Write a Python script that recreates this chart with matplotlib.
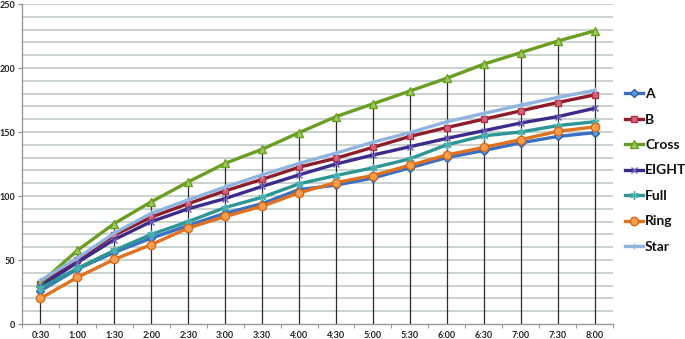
import numpy as np
import matplotlib
matplotlib.use("Agg")
from matplotlib import pyplot as plt
from matplotlib.ticker import MultipleLocator

plt.rcParams['font.family'] = ['Lato', 'DejaVu Sans']

times = ['0:30', '1:00', '1:30', '2:00', '2:30', '3:00', '3:30', '4:00',
         '4:30', '5:00', '5:30', '6:00', '6:30', '7:00', '7:30', '8:00']

A = [26, 43, 56, 67, 77, 86.5, 94, 105, 108.5, 114, 122, 130, 135.5, 141.5, 146.5, 149.5]
B = [31, 50, 69.5, 83.5, 94, 104, 113, 122.5, 129.5, 138, 146.5, 153.5, 160, 166.5, 173, 179]
Cross = [32, 57.5, 78.5, 95.5, 111, 125.5, 136.5, 149.5, 162, 172, 182, 192, 203, 212, 221, 229]
EIGHT = [29.5, 48, 66, 80, 90, 98, 107.5, 116.5, 125, 132, 138.5, 145, 151, 157, 162, 168.5]
Full = [28, 43.5, 57.5, 70, 80, 91, 99, 109.5, 116, 122, 129, 140, 147, 150, 155, 158]
Ring = [20, 36.5, 50.5, 62, 75, 84, 92, 102.5, 110.5, 116, 124, 132, 138, 144, 150.5, 154]
Star = [34, 51.5, 71, 86.5, 97, 107, 116.5, 125.5, 133.5, 142, 149.5, 158, 164.5, 171, 177, 182.5]

names = ['A', 'B', 'Cross', 'EIGHT', 'Full', 'Ring', 'Star']
series = [A, B, Cross, EIGHT, Full, Ring, Star]
# line colour, marker, marker face, marker edge, marker size
styles = [
    ('#3A6FC4', 'D', '#5B9BD5', '#2F5FA8', 4),
    ('#8E1C2A', 's', '#D4637A', '#B0304A', 5),
    ('#6A9E22', '^', '#9CCB5A', '#6A9E22', 5.5),
    ('#3D2A8A', 'x', '#5B47A8', '#6B5BB8', 5),
    ('#2E9595', (6, 2, 0), '#5CC3C3', '#4BB0B0', 6),
    ('#E0711E', 'o', '#F4A050', '#D86A18', 6),
    ('#8FB4E0', '|', '#8FB4E0', '#8FB4E0', 4),
]

fig = plt.figure(figsize=(6.85, 3.39), dpi=100)
ax = fig.add_axes([22 / 685, 1 - 324 / 339, 591 / 685, 320 / 339])

x = np.arange(len(times))

# horizontal gridlines every 10
for v in range(10, 251, 10):
    ax.axhline(v, color='#C5CFCB', lw=1.3, zorder=0)

# drop lines from the highest point to the axis
tops = np.max(np.array(series), axis=0)
ax.vlines(x, 0, tops, color='#2b2b2b', lw=0.9, zorder=1)

for name, vals, (lc, mk, mf, me, ms) in zip(names, series, styles):
    ax.plot(x, vals, color=lc, lw=2.4, marker=mk, markersize=ms,
            markerfacecolor=mf, markeredgecolor=me, markeredgewidth=1.0,
            label=name, zorder=3)

ax.set_xlim(-0.5, 15.5)
ax.set_ylim(0, 250)
ax.set_xticks(x)
ax.set_xticklabels(times, fontsize=6.5, color='#222')
ax.set_xticks(np.arange(-0.5, 16, 1), minor=True)
ax.tick_params(axis='x', which='major', length=0, pad=5)
ax.tick_params(axis='x', which='minor', length=3, color='#888')
ax.yaxis.set_major_locator(MultipleLocator(50))
ax.tick_params(axis='y', which='major', length=3, color='#888', labelsize=6.5,
               labelcolor='#222', pad=2)
for lab in ax.get_xticklabels() + ax.get_yticklabels():
    lab.set_fontweight('bold')

for s in ['top', 'right']:
    ax.spines[s].set_visible(False)
for s in ['left', 'bottom']:
    ax.spines[s].set_color('#999')
    ax.spines[s].set_linewidth(1.0)

leg = fig.legend(loc='center left', bbox_to_anchor=(625 / 685, 1 - 170.5 / 339),
                 frameon=False, handlelength=1.3, handletextpad=0.15,
                 labelspacing=0.97, prop={'size': 10, 'weight': 'bold'},
                 borderaxespad=0, borderpad=0)
for t in leg.get_texts():
    t.set_color('#111')

fig.savefig('out.png', dpi=100)
